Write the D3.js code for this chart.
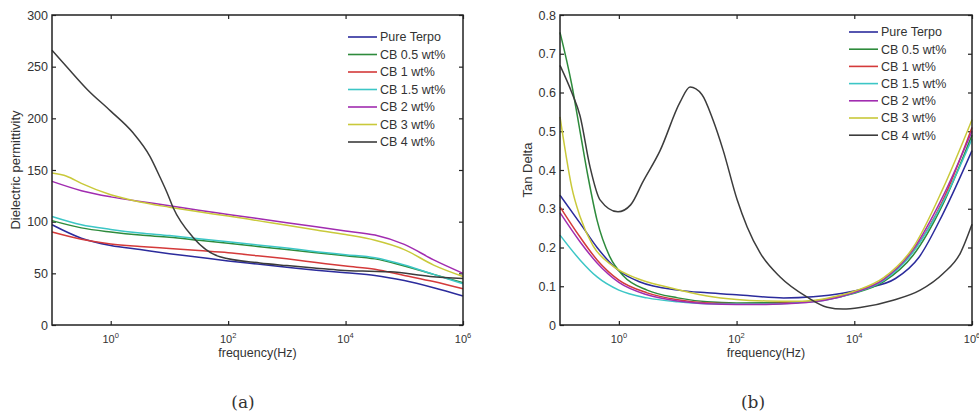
<!DOCTYPE html>
<html>
<head>
<meta charset="utf-8">
<script src="https://cdn.jsdelivr.net/npm/d3@7"></script>
<style>
  body { margin: 0; background: #fff; }
  svg { display: block; }
  text { font-family: "Liberation Sans", Arial, sans-serif; fill: #333; }
</style>
</head>
<body>
<div class="chart"></div>
<script>
// series names and colours (legend order)
var series_names = ["Pure Terpo", "CB 0.5 wt%", "CB 1 wt%", "CB 1.5 wt%", "CB 2 wt%", "CB 3 wt%", "CB 4 wt%"];
var series_colors = ["#2b2b9c", "#2e8b3c", "#d43a3a", "#3cc6c6", "#a12cb0", "#c9c93a", "#3c3c3c"];

// panel (a): dielectric permittivity, points are [log10(frequency), value]
var perm_pure = [[-1,97],[-0.5,84],[0,77],[0.5,73],[1,69],[1.5,65.5],[2,62],[2.5,59],[3,56],[3.5,53],[4,50.5],[4.5,48],[5,43],[5.5,36],[6,28]];
var perm_cb05 = [[-1,101],[-0.5,94],[0,90],[0.5,87],[1,85],[1.5,82],[2,79],[2.5,76],[3,73],[3.5,70],[4,67],[4.5,64],[5,57],[5.5,49],[6,41]];
var perm_cb1 = [[-1,90],[-0.5,83],[0,78.5],[0.5,76],[1,74],[1.5,72],[2,70],[2.5,67],[3,64],[3.5,60.5],[4,57],[4.5,54],[5,48],[5.5,42],[6,35]];
var perm_cb15 = [[-1,105],[-0.5,97],[0,92.5],[0.5,89],[1,86.5],[1.5,83.5],[2,80.5],[2.5,77.5],[3,74.5],[3.5,71],[4,68],[4.5,65],[5,58],[5.5,49],[6,40]];
var perm_cb2 = [[-1,139],[-0.5,130],[0,124],[0.5,119.5],[1,115.5],[1.5,111],[2,107],[2.5,103],[3,99],[3.5,95],[4,91],[4.5,87],[5,78],[5.5,63],[6,50]];
var perm_cb3 = [[-1,147],[-0.75,144],[-0.5,137],[0,126],[0.5,119],[1,114],[1.5,109.5],[2,105.5],[2.5,101],[3,96.5],[3.5,92],[4,87.5],[4.5,82],[5,73],[5.5,58],[6,47]];
var perm_cb4 = [[-1,266],[-0.75,250],[-0.4,228],[0,207],[0.38,186],[0.67,163],[0.84,143],[0.96,128],[1.06,114],[1.4,85],[1.86,66],[2.54,60],[3,57.5],[3.5,55],[3.91,53],[4.4,52],[4.76,51.5],[5.44,47],[6,45]];

// panel (b): tan delta
var tan_pure = [[-1,0.335],[-0.66,0.263],[-0.37,0.2],[0,0.14],[0.36,0.111],[1,0.09],[1.5,0.083],[2,0.078],[2.8,0.07],[3.3,0.073],[3.8,0.082],[4.2,0.095],[4.7,0.12],[5.1,0.175],[5.5,0.285],[6,0.45]];
var tan_cb05 = [[-1,0.755],[-0.8,0.62],[-0.66,0.5],[-0.52,0.38],[-0.37,0.27],[-0.15,0.175],[0.07,0.128],[0.48,0.09],[1,0.07],[1.5,0.06],[2,0.057],[3,0.058],[3.5,0.066],[4,0.082],[4.5,0.112],[5,0.18],[5.5,0.31],[6,0.49]];
var tan_cb1 = [[-1,0.305],[-0.66,0.227],[-0.37,0.168],[0,0.116],[0.48,0.083],[1,0.065],[1.5,0.057],[2,0.055],[2.5,0.055],[3,0.058],[3.5,0.066],[4,0.085],[4.5,0.117],[5,0.19],[5.5,0.32],[6,0.51]];
var tan_cb15 = [[-1,0.232],[-0.66,0.168],[-0.37,0.124],[0,0.09],[0.48,0.07],[1,0.06],[1.5,0.055],[2,0.054],[2.5,0.054],[3,0.057],[3.5,0.064],[4,0.083],[4.5,0.115],[5,0.188],[5.5,0.315],[6,0.48]];
var tan_cb2 = [[-1,0.29],[-0.66,0.215],[-0.37,0.16],[0,0.11],[0.48,0.078],[1,0.062],[1.5,0.055],[2,0.053],[2.5,0.053],[3,0.056],[3.5,0.064],[4,0.084],[4.5,0.118],[5,0.195],[5.5,0.33],[6,0.5]];
var tan_cb3 = [[-1,0.537],[-0.9,0.44],[-0.8,0.355],[-0.66,0.28],[-0.44,0.205],[-0.1,0.152],[0.31,0.12],[0.82,0.098],[1.5,0.075],[2,0.066],[2.5,0.062],[3,0.061],[3.5,0.068],[4,0.087],[4.5,0.122],[5,0.2],[5.5,0.35],[6,0.53]];
var tan_cb4 = [[-1,0.67],[-0.8,0.6],[-0.66,0.54],[-0.49,0.408],[-0.32,0.323],[-0.015,0.292],[0.2,0.31],[0.41,0.37],[0.7,0.45],[1.04,0.575],[1.21,0.614],[1.41,0.595],[1.6,0.529],[1.77,0.452],[2.01,0.323],[2.18,0.253],[2.4,0.186],[2.74,0.124],[3.2,0.072],[3.54,0.046],[3.81,0.041],[4.1,0.045],[4.66,0.064],[5.12,0.09],[5.51,0.133],[5.8,0.185],[6,0.26]];

// axis ticks
var freq_ticks = [1, 100, 10000, 1000000];
var freq_exps = ["0", "2", "4", "6"];
var perm_ticks = [0, 50, 100, 150, 200, 250, 300];
var tan_ticks = [0, 0.1, 0.2, 0.3, 0.4, 0.5, 0.6, 0.7, 0.8];

var width = 979, height = 415;

var svg = d3.select('.chart')
    .append('svg')
        .attr('width', width)
        .attr('height', height);

function drawPanel(p) {
    var x = d3.scaleLog().domain([0.1, 1e6]).range([p.left, p.right]);
    var y = d3.scaleLinear().domain(p.ydomain).range([p.bottom, p.top]);
    var g = svg.append('g');

    // inward ticks on all four sides, like matlab
    var axes = [
        [d3.axisBottom(x), 'translate(0,' + p.bottom + ')', freq_ticks],
        [d3.axisTop(x), 'translate(0,' + p.top + ')', freq_ticks],
        [d3.axisRight(y), 'translate(' + p.right + ',0)', p.yticks]
    ];
    axes.forEach(function(a) {
        var ax = g.append('g').attr('transform', a[1])
            .call(a[0].tickValues(a[2]).tickSize(-4).tickFormat(''));
        ax.select('.domain').remove();
        ax.selectAll('line').attr('stroke', '#222').attr('stroke-width', 1.2);
    });

    var yax = g.append('g').attr('transform', 'translate(' + p.left + ',0)')
        .call(d3.axisLeft(y).tickValues(p.yticks).tickSize(-4).tickPadding(4).tickFormat(p.yformat));
    yax.select('.domain').remove();
    yax.selectAll('line').attr('stroke', '#222').attr('stroke-width', 1.2);
    yax.selectAll('text').attr('font-size', 12.5).attr('fill', '#333')
        .attr('font-family', '"Liberation Sans", Arial, sans-serif');

    // log tick labels with superscripts
    var xl = g.selectAll('.xlab').data(freq_ticks).enter()
        .append('text')
        .attr('class', 'xlab')
        .attr('x', function(d) { return x(d); })
        .attr('y', p.bottom + 18)
        .attr('text-anchor', 'middle')
        .attr('font-size', 11);
    xl.append('tspan').text('10');
    xl.append('tspan').attr('dy', -5).attr('font-size', 7.5)
        .text(function(d, i) { return freq_exps[i]; });

    g.append('text')
        .attr('x', (p.left + p.right) / 2)
        .attr('y', p.bottom + 32)
        .attr('text-anchor', 'middle')
        .attr('font-size', 12.5)
        .text('frequency(Hz)');

    g.append('text')
        .attr('transform', 'translate(' + p.ylabx + ',' + (p.top + p.bottom) / 2 + ') rotate(-90)')
        .attr('text-anchor', 'middle')
        .attr('font-size', 13)
        .text(p.ylabel);

    var line = d3.line()
        .x(function(d) { return x(Math.pow(10, d[0])); })
        .y(function(d) { return y(d[1]); })
        .curve(d3.curveMonotoneX);

    g.selectAll('.curve').data(p.data).enter()
        .append('path')
        .attr('class', 'curve')
        .attr('d', line)
        .attr('fill', 'none')
        .attr('stroke', function(d, i) { return series_colors[i]; })
        .attr('stroke-width', 1.5);

    // frame
    g.append('rect')
        .attr('x', p.left).attr('y', p.top)
        .attr('width', p.right - p.left).attr('height', p.bottom - p.top)
        .attr('fill', 'none').attr('stroke', '#222').attr('stroke-width', 1.5);

    // legend
    var lg = g.selectAll('.leg').data(series_names).enter()
        .append('g')
        .attr('class', 'leg')
        .attr('transform', function(d, i) { return 'translate(' + p.legx + ',' + (p.legy + i * p.legstep) + ')'; });
    lg.append('line')
        .attr('x1', 0).attr('x2', 29)
        .attr('stroke', function(d, i) { return series_colors[i]; })
        .attr('stroke-width', 1.6);
    lg.append('text')
        .attr('x', 32).attr('dy', '0.35em')
        .attr('font-size', 12.5)
        .text(function(d) { return d; });

    g.append('text')
        .attr('x', p.capx).attr('y', 408)
        .attr('text-anchor', 'middle')
        .style('font-family', '"DejaVu Serif", "Liberation Serif", serif')
        .attr('font-size', 17)
        .text(p.caption);
}

drawPanel({
    left: 52, right: 463, top: 15, bottom: 325,
    ydomain: [0, 300], yticks: perm_ticks, yformat: d3.format('d'),
    ylabel: 'Dielectric permittivity', ylabx: 20,
    data: [perm_pure, perm_cb05, perm_cb1, perm_cb15, perm_cb2, perm_cb3, perm_cb4],
    legx: 348, legy: 37, legstep: 17.5,
    caption: '(a)', capx: 243
});

drawPanel({
    left: 560, right: 972, top: 15, bottom: 325,
    ydomain: [0, 0.8], yticks: tan_ticks,
    yformat: function(d) { return d === 0 ? '0' : d3.format('.1f')(d); },
    ylabel: 'Tan Delta', ylabx: 532,
    data: [tan_pure, tan_cb05, tan_cb1, tan_cb15, tan_cb2, tan_cb3, tan_cb4],
    legx: 849, legy: 32, legstep: 17.2,
    caption: '(b)', capx: 753
});
</script>
</body>
</html>
